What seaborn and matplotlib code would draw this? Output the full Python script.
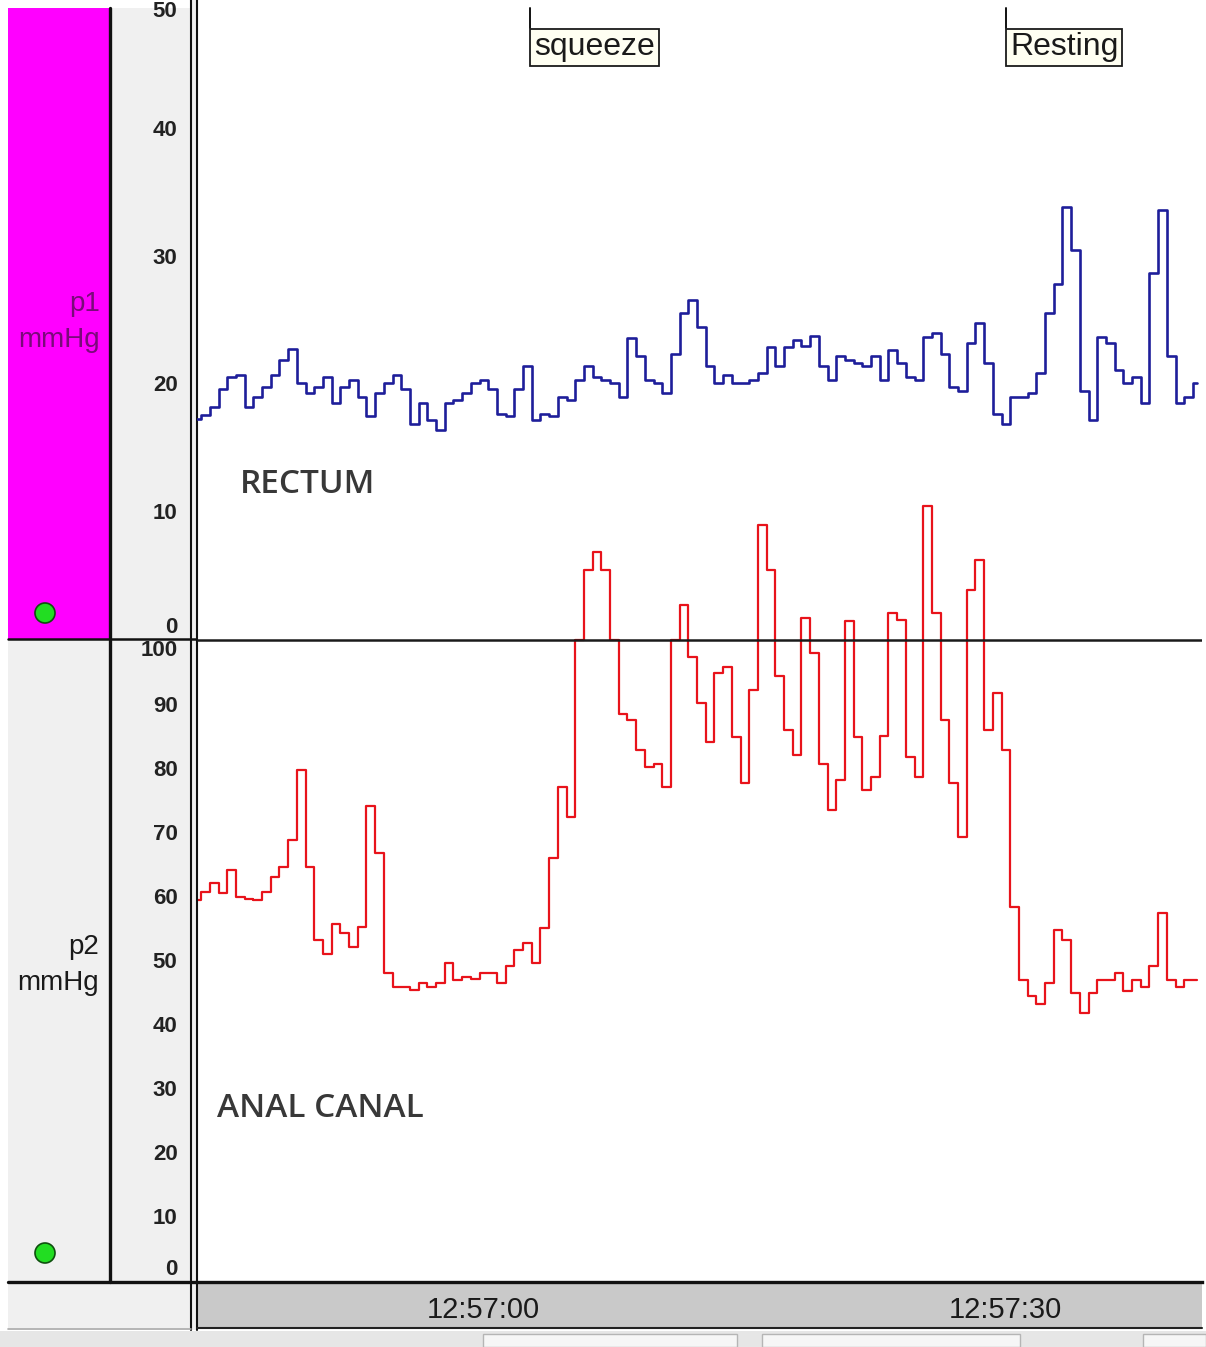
import numpy as np
import pandas as pd
import matplotlib.pyplot as plt
from matplotlib.patches import Rectangle, Circle
from matplotlib.ticker import FixedLocator, MultipleLocator
import seaborn as sns

# manometry trace, one reading every 0.5 s; time in seconds after 12:56:00
start_s = 43.55
step_s = 0.5

rectum_p1 = [
    17.2, 17.5, 18.1, 19.5, 20.5, 20.6, 18.1, 18.9, 19.7, 20.6,
    21.8, 22.7, 20.0, 19.2, 19.7, 20.5, 18.4, 19.7, 20.2, 18.9,
    17.4, 19.2, 20.0, 20.6, 19.5, 16.8, 18.4, 17.1, 16.3, 18.4,
    18.7, 19.2, 20.0, 20.2, 19.5, 17.6, 17.4, 19.5, 21.3, 17.1,
    17.6, 17.4, 18.9, 18.7, 20.2, 21.3, 20.5, 20.2, 20.0, 18.9,
    23.5, 22.1, 20.2, 20.0, 19.2, 22.3, 25.5, 26.5, 24.4, 21.3,
    20.0, 20.6, 20.0, 20.0, 20.2, 20.8, 22.8, 21.3, 22.8, 23.4,
    22.9, 23.7, 21.3, 20.2, 22.1, 21.8, 21.6, 21.3, 22.1, 20.2,
    22.6, 21.6, 20.5, 20.2, 23.6, 23.9, 22.3, 19.7, 19.4, 23.1,
    24.7, 21.6, 17.6, 16.8, 18.9, 18.9, 19.2, 20.8, 25.5, 27.8,
    33.8, 30.4, 19.4, 17.1, 23.6, 23.1, 21.0, 20.0, 20.5, 18.4,
    28.6, 33.6, 22.1, 18.4, 18.9, 20.0,
]

anal_p2 = [
    59.4, 60.7, 62.0, 60.4, 64.1, 59.9, 59.6, 59.4, 60.7, 63.0,
    64.6, 68.8, 79.7, 64.6, 53.1, 51.0, 55.7, 54.2, 52.1, 55.2,
    74.0, 66.7, 47.9, 45.8, 45.8, 45.3, 46.4, 45.8, 46.4, 49.5,
    46.9, 47.4, 47.1, 47.9, 47.9, 46.4, 49.0, 51.6, 52.6, 49.5,
    55.0, 66.0, 77.1, 72.4, 100.0, 110.9, 113.8, 110.9, 100.0, 88.5,
    87.5, 82.8, 80.2, 80.7, 77.1, 100.0, 105.5, 97.4, 90.1, 84.0,
    94.8, 95.8, 84.9, 77.6, 92.2, 118.0, 110.9, 94.3, 86.0, 82.0,
    103.4, 97.9, 80.7, 73.4, 78.1, 102.9, 84.9, 76.6, 78.6, 85.0,
    104.2, 103.1, 81.7, 78.6, 121.0, 104.2, 87.5, 77.6, 69.2, 107.8,
    112.5, 86.0, 91.7, 82.8, 58.3, 46.9, 44.3, 43.2, 46.4, 54.7,
    53.1, 44.8, 41.7, 44.8, 46.9, 46.9, 47.9, 45.1, 46.9, 45.8,
    49.0, 57.3, 46.9, 45.8, 46.9, 46.9,
]

p1_ticks = [0, 10, 20, 30, 40, 50]
p2_ticks = [0, 10, 20, 30, 40, 50, 60, 70, 80, 90, 100]
time_ticks = [60, 90]
time_labels = ["12:57:00", "12:57:30"]
event_names = ["squeeze", "Resting"]
event_times = [62.7, 90.05]

W, H = 1206, 1347
MAGENTA = "#ff00ff"
PANEL = "#f0f0f0"
RED = "#e8131b"
BLUE = "#1e1e9a"
NARROW = ["Liberation Sans Narrow", "Liberation Sans", "DejaVu Sans"]

sns.set_style("white")
plt.rcParams["font.family"] = ["Liberation Sans", "DejaVu Sans"]

fig = plt.figure(figsize=(W / 100, H / 100), dpi=100)

# window chrome drawn in pixel coordinates
bg = fig.add_axes([0, 0, 1, 1], zorder=-1)
bg.set_xlim(0, W)
bg.set_ylim(H, 0)
bg.axis("off")

bg.add_patch(Rectangle((8, 8), 101, 631, fc=MAGENTA, ec="none"))
bg.add_patch(Rectangle((8, 640), 101, 642, fc=PANEL, ec="none"))
bg.add_patch(Rectangle((110, 8), 82, 1274, fc=PANEL, ec="none"))
bg.add_patch(Rectangle((191, 0), 6, 1330, fc=PANEL, ec="none"))
bg.add_patch(Rectangle((8, 1283), 184, 45, fc=PANEL, ec="none"))
bg.add_patch(Rectangle((197, 1283), 1005, 45, fc="#c9c9c9", ec="none"))
bg.add_patch(Rectangle((0, 1331), W, 16, fc="#e6e6e6", ec="none"))
for left, right in [(483, 737), (762, 1020), (1143, 1206)]:
    bg.add_patch(Rectangle((left, 1334), right - left, 13, fc="#f6f6f6", ec="#b5b5b5", lw=1))

bg.plot([109.5, 109.5], [8, 1282], color="#111111", lw=2.4)
bg.plot([191, 191], [0, 1330], color="#111111", lw=1.5)
bg.plot([197, 197], [1282, 1330], color="#111111", lw=1.5)
bg.plot([8, 197], [639, 639], color="#111111", lw=1.8)
bg.plot([8, 197], [1282, 1282], color="#111111", lw=2.4)
bg.plot([197, 1202], [1328, 1328], color="#222222", lw=1.5)
bg.plot([8, 191], [1329, 1329], color="#a8a8a8", lw=1.2)

for cy in [613, 1253]:
    bg.add_patch(Circle((45, cy), 10, fc="#22dd22", ec="#0f4f0f", lw=1.2))

bg.text(100, 322, "p1\nmmHg", ha="right", va="center", multialignment="right",
        fontsize=20, color="#7a0a7a", linespacing=1.5)
bg.text(99, 965, "p2\nmmHg", ha="right", va="center", multialignment="right",
        fontsize=20, color="#1a1a1a", linespacing=1.5)

# plotting area: both channels share one window, each with its own scale
rect = [197 / W, 1 - 1282 / H, 1005 / W, 1282 / H]
ax_p2 = fig.add_axes(rect)
ax_p1 = fig.add_axes(rect, sharex=ax_p2)
ax_p1.patch.set_visible(False)

df = pd.DataFrame({
    "time": start_s + step_s * np.arange(len(anal_p2)),
    "p1": rectum_p1,
    "p2": anal_p2,
})

sns.lineplot(data=df, x="time", y="p2", ax=ax_p2, color=RED, linewidth=1.6,
             drawstyle="steps-mid", errorbar=None)
sns.lineplot(data=df, x="time", y="p1", ax=ax_p1, color=BLUE, linewidth=1.9,
             drawstyle="steps-mid", errorbar=None)

ax_p2.axhline(100, color="#1a1a1a", lw=1.8, zorder=5)

ax_p2.set_xlim(43.56, 101.32)
ax_p2.set_ylim(-0.31, 200)
ax_p1.set_ylim(-50.51, 50.04)

for ax in (ax_p1, ax_p2):
    ax.set_xlabel("")
    ax.set_ylabel("")
    for side in ["top", "right", "left", "bottom"]:
        ax.spines[side].set_visible(False)

ax_p2.spines["left"].set_visible(True)
ax_p2.spines["left"].set(lw=1.5, color="#111111")
ax_p2.spines["bottom"].set_visible(True)
ax_p2.spines["bottom"].set(lw=2.4, color="#111111")

ax_p2.set_yticks(p2_ticks)
labs = ax_p2.set_yticklabels([str(v) for v in p2_ticks], fontsize=16,
                             fontweight="bold", color="#222222")
labs[0].set_va("bottom")
labs[-1].set_va("top")
ax_p2.tick_params(axis="y", length=0, pad=14)

ax_p1.set_yticks(p1_ticks)
labs = ax_p1.set_yticklabels([str(v) for v in p1_ticks], fontsize=16,
                             fontweight="bold", color="#222222")
labs[0].set_va("bottom")
labs[-1].set_va("top")
ax_p1.tick_params(axis="y", length=0, pad=14)
ax_p1.tick_params(axis="x", which="both", bottom=False, labelbottom=False)

ax_p2.xaxis.set_major_locator(FixedLocator(time_ticks))
ax_p2.set_xticks(time_ticks, labels=time_labels, fontfamily=NARROW,
                 fontsize=21, color="#1a1a1a")
ax_p2.xaxis.set_minor_locator(MultipleLocator(0.5))
ax_p2.tick_params(axis="x", which="major", direction="in", length=8,
                  width=1.2, pad=10, color="#111111")
ax_p2.tick_params(axis="x", which="minor", direction="out", length=4,
                  width=0.9, color="#333333")

# event markers
xform = ax_p1.get_xaxis_transform()
for name, t in zip(event_names, event_times):
    ax_p1.axvline(t, ymin=0.978, ymax=0.994, color="#111111", lw=1.4)
    ax_p1.annotate(name, xy=(t, 0.978), xycoords=xform, xytext=(3, -3),
                   textcoords="offset points", ha="left", va="top",
                   fontsize=23, fontfamily=NARROW, color="#1a1a1a",
                   bbox=dict(boxstyle="square,pad=0.12", fc="#fffff2",
                             ec="#1a1a1a", lw=1.3))

ax_p1.text(0.0428, 0.6217, "RECTUM", transform=ax_p1.transAxes, fontsize=24,
           fontweight="semibold", fontfamily=["Open Sans", "DejaVu Sans"],
           color="#383838", va="center", ha="left")
ax_p1.text(0.0199, 0.1357, "ANAL CANAL", transform=ax_p1.transAxes, fontsize=24,
           fontweight="semibold", fontfamily=["Open Sans", "DejaVu Sans"],
           color="#383838", va="center", ha="left")

fig.savefig("out.png", dpi=100)
